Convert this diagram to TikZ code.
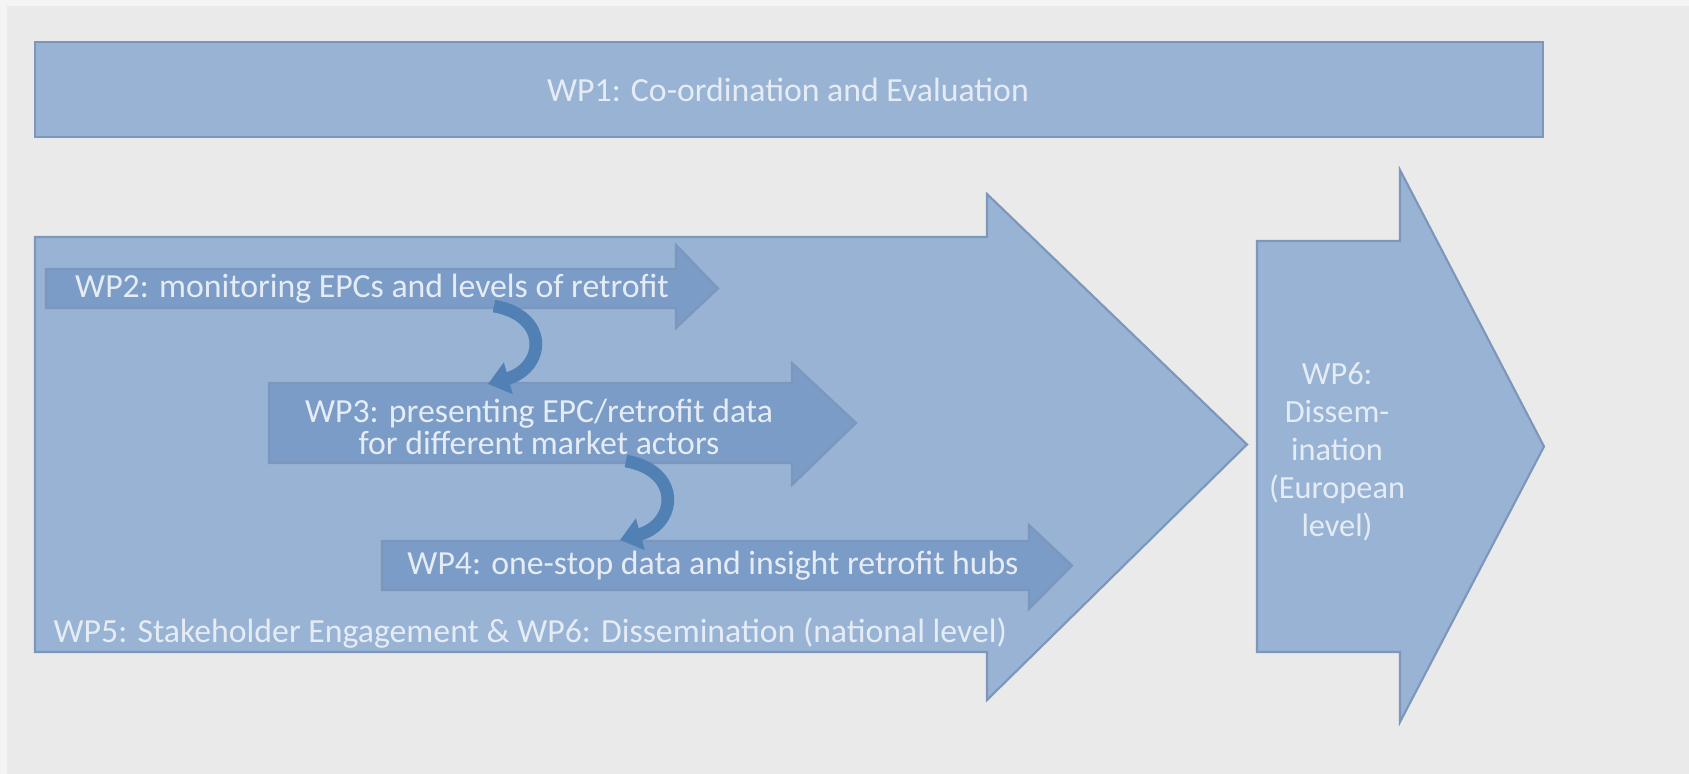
\documentclass[tikz,border=0pt]{standalone}
\usepackage{fontspec}
\setmainfont{Carlito}
\usetikzlibrary{arrows.meta}

\definecolor{pagebg}{HTML}{EAEAEA}
\definecolor{pageedge}{HTML}{F4F4F4}
\definecolor{wpfill}{HTML}{98B3D4}
\definecolor{wpdark}{HTML}{7A9CC7}
\definecolor{wpline}{HTML}{7C96BC}
\definecolor{wplink}{HTML}{5080B4}
\definecolor{wptxt}{HTML}{E6ECF5}

% block arrow: style, left, top, bottom, head x, head top, head bottom, tip x
\newcommand\blockarrow[8]{\draw[#1] (#2,#3) -- (#5,#3) -- (#5,#6) --
  (#8,{(#3+#4)/2}) -- (#5,#7) -- (#5,#4) -- (#2,#4) -- cycle;}

\tikzset{
  wpbox/.style={fill=wpfill,draw=wpline,line width=.6pt},
  wpinner/.style={fill=wpdark,draw=wpline,line width=.6pt},
  wptext/.style={text=wptxt,inner sep=0pt,font=\fontsize{9.6}{9.1}\selectfont},
  linkarrow/.style={draw=wplink,line width=3.6pt,-{Triangle[width=9pt,length=6pt]}}
}

\begin{document}
\begin{tikzpicture}[x=0.01cm,y=-0.01cm]
  \useasboundingbox (0,0) rectangle (1689,774);
  \fill[pageedge] (0,0) rectangle (1689,774);
  \fill[pagebg] (7,6) rectangle (1689,774);

  % WP1 bar on top
  \draw[wpbox] (35,42) rectangle (1543,137);
  \node[wptext] (wp1) at (788,90) {WP1: Co-ordination and Evaluation};

  % national level arrow with WP2--WP4 inside
  \blockarrow{wpbox}{35}{237}{652}{987}{194}{700}{1247}
  \node[wptext,anchor=base west] (wp5) at (53,643)
    {WP5: Stakeholder Engagement \& WP6: Dissemination (national level)};

  \blockarrow{wpinner}{46}{269}{308}{676}{245}{328}{718}
  \node[wptext] (wp2) at (372,289) {WP2: monitoring EPCs and levels of retrofit};

  \blockarrow{wpinner}{269}{383}{463}{792}{363}{485}{856}
  \node[wptext,align=center] (wp3) at (539,427)
    {WP3: presenting EPC/retrofit data\\for different market actors};

  \blockarrow{wpinner}{382}{541}{590}{1029}{525}{609}{1072}
  \node[wptext] (wp4) at (713,566) {WP4: one-stop data and insight retrofit hubs};

  % links between the work packages
  \coordinate (l1s) at (494,306); \coordinate (l1e) at (488,384);
  \coordinate (l2s) at (626,461); \coordinate (l2e) at (620,540);
  \draw[linkarrow] (l1s) .. controls (550,316) and (545,368) .. (l1e);
  \draw[linkarrow] (l2s) .. controls (682,471) and (677,524) .. (l2e);

  % european level
  \blockarrow{wpbox}{1257}{241}{652}{1400}{170}{722}{1544}
  \node[wptext,align=center,font=\fontsize{9.2}{10.8}\selectfont] (wp6)
    at (1337,452) {WP6:\\Dissem-\\ination\\(European\\level)};
\end{tikzpicture}
\end{document}
